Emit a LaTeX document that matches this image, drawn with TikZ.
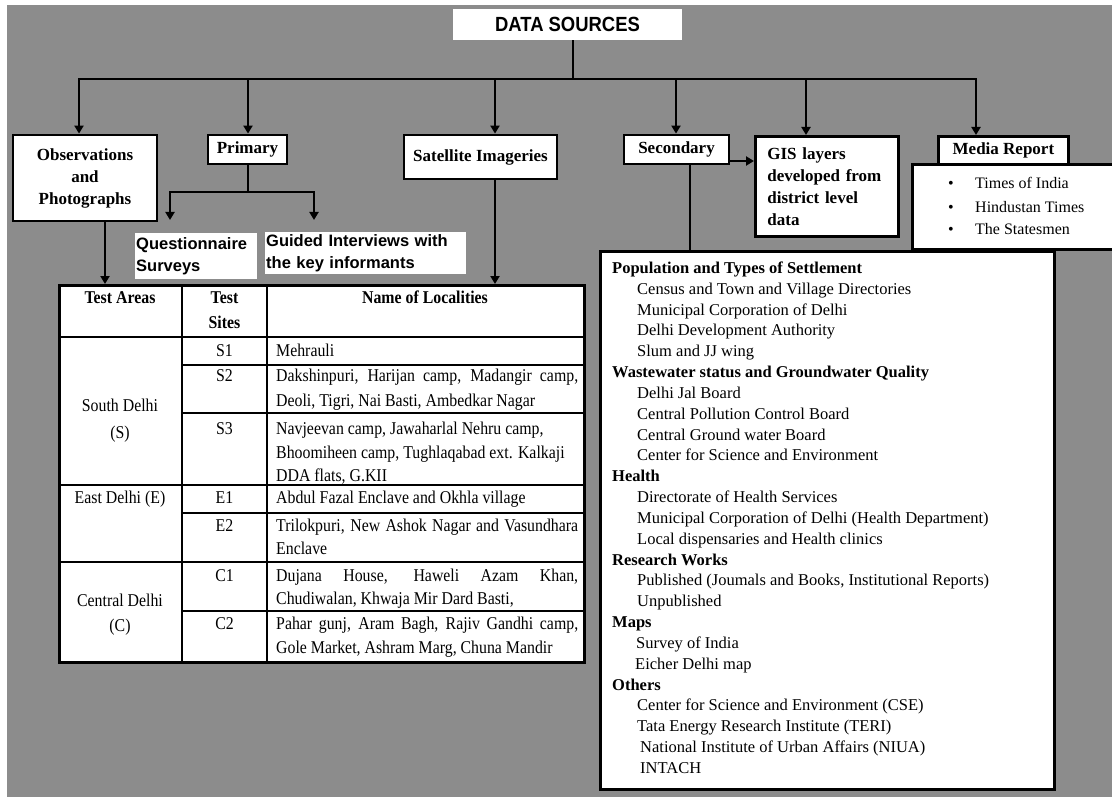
\documentclass[tikz,border=0pt]{standalone}
\usepackage{fontspec}
\setmainfont{Liberation Serif}
\newfontfamily\titlefont[FakeStretch=0.9]{Liberation Sans}
\newfontfamily\labelfont{Liberation Sans}
\newfontfamily\tablefont[FakeStretch=0.88]{Liberation Serif}
\usetikzlibrary{arrows.meta}
\definecolor{bggray}{RGB}{140,140,140}

\begin{document}
\begin{tikzpicture}[x=1pt,y=-1pt,
  box/.style={draw=black, line width=2.8pt, fill=white, inner sep=0pt},
  plain/.style={fill=white, inner sep=0pt},
  wire/.style={draw=black, line width=2.6pt},
  arr/.style={wire, -{Triangle[length=8pt,width=9pt]}},
  boxfont/.style={font=\fontsize{17}{22}\selectfont\bfseries},
  lblfont/.style={font=\labelfont\fontsize{16.5}{22}\selectfont\bfseries},
  tline/.style={draw=black, line width=2.6pt},
  tvline/.style={draw=black, line width=1.6pt},
  tcell/.style={font=\tablefont\fontsize{18}{24}\selectfont, inner sep=0pt, anchor=base},
  thead/.style={font=\tablefont\fontsize{18}{24}\selectfont\bfseries, inner sep=0pt, anchor=base},
  tloc/.style={font=\tablefont\fontsize{18}{24}\selectfont, inner sep=0pt, anchor=base west},
  srcline/.style={font=\fontsize{16.5}{20}\selectfont, inner sep=0pt, anchor=base west},
  listfont/.style={font=\fontsize{16}{20}\selectfont, inner sep=0pt, anchor=base west}
]
% canvas
\useasboundingbox (0,0) rectangle (1112,797);
\fill[white] (0,0) rectangle (1112,797);
\fill[bggray] (7,5) rectangle (1112,797);

% title
\node[plain, minimum width=229pt, minimum height=31pt,
      font=\titlefont\fontsize{20.5}{22}\selectfont\bfseries] (title) at (567.5,24.5) {DATA SOURCES};

% first level boxes
\node[box, boxfont, align=center, minimum width=144pt, minimum height=86pt] (obs) at (85,178)
  {Observations\\and\\Photographs};
\node[box, boxfont, minimum width=79pt, minimum height=29pt] (pri) at (247.5,149.5) {Primary};
\node[box, boxfont, minimum width=153pt, minimum height=44pt] (sat) at (480.5,157) {Satellite Imageries};
\node[box, boxfont, minimum width=105pt, minimum height=29pt] (sec) at (676.5,149.5) {Secondary};
\node[box, boxfont, align=left, text width=119pt, inner xsep=12pt, minimum width=143pt,
      minimum height=100pt, anchor=north west] (gis) at (754,135)
  {GIS layers\\developed from\\district level\\data};
\node[box, boxfont, minimum width=130pt, minimum height=28pt, anchor=north west] (med) at (937,135) {Media Report};

% newspaper list
\node[box, minimum width=205pt, minimum height=85pt, anchor=north west] (medlist) at (911,163) {};
\node[listfont] (b1) at (948,189) {\textbullet};
\node[listfont] (b2) at (948,212) {\textbullet};
\node[listfont] (b3) at (948,234) {\textbullet};
\node[listfont] (n1) at (975,189) {Times of India};
\node[listfont] (n2) at (975,212) {Hindustan Times};
\node[listfont] (n3) at (975,234) {The Statesmen};

% primary data labels
\node[plain, lblfont, align=left, text width=120pt, inner xsep=1pt, minimum width=122pt,
      minimum height=46pt, anchor=north west] (qs) at (135,233) {Questionnaire\\Surveys};
\node[plain, lblfont, align=left, text width=199pt, inner xsep=1pt, minimum width=201pt,
      minimum height=42pt, anchor=north west] (gi) at (265,232) {Guided Interviews with\\the key informants};

% connectors from the title
\coordinate (hub) at (573,79);
\coordinate (d1) at (79,79);
\coordinate (d2) at (248,79);
\coordinate (d3) at (495,79);
\coordinate (d4) at (676,79);
\coordinate (d5) at (806,79);
\coordinate (d6) at (976,79);
\draw[wire] (title.south -| hub) -- (hub);
\draw[arr] (hub) -| (d1 |- obs.north);
\draw[arr] (hub) -| (d6 |- med.north);
\draw[arr] (d2) -- (d2 |- pri.north);
\draw[arr] (d3) -- (d3 |- sat.north);
\draw[arr] (d4) -- (d4 |- sec.north);
\draw[arr] (d5) -- (d5 |- gis.north);

% primary split
\coordinate (psplit) at (248,192);
\coordinate (qtip) at (170,220);
\coordinate (gtip) at (314,220);
\draw[wire] (psplit |- pri.south) -- (psplit);
\draw[arr] (psplit) -| (qtip);
\draw[arr] (psplit) -| (gtip);

% secondary to GIS layers
\coordinate (sg) at (729,161);
\draw[arr] (sg) -- (sg -| gis.west);

% table of test areas
\node[box, minimum width=525pt, minimum height=377pt, anchor=north west] (tbl) at (58,284) {};
\coordinate (od) at (105,0);
\coordinate (sd) at (495,0);
\draw[arr] (od |- obs.south) -- (od |- tbl.north);
\draw[arr] (sd |- sat.south) -- (sd |- tbl.north);

\draw[tvline] (182,284) -- (182,661);
\draw[tvline] (267,284) -- (267,661);
\draw[tline] (58,337) -- (583,337);
\draw[tline] (58,485) -- (583,485);
\draw[tline] (58,562) -- (583,562);
\draw[tline] (182,365) -- (583,365);
\draw[tline] (182,413) -- (583,413);
\draw[tline] (182,513) -- (583,513);
\draw[tline] (182,611) -- (583,611);

% header row
\node[thead] (h1) at (120,303) {Test Areas};
\node[thead] (h2a) at (224.5,303) {Test};
\node[thead] (h2b) at (224.5,328) {Sites};
\node[thead] (h3) at (425,303) {Name of Localities};

% test areas
\node[tcell] (ta1) at (120,411) {South Delhi};
\node[tcell] (ta1b) at (120,438) {(S)};
\node[tcell] (ta2) at (120,503) {East Delhi (E)};
\node[tcell] (ta3) at (120,606) {Central Delhi};
\node[tcell] (ta3b) at (120,631) {(C)};

% test sites
\node[tcell] (s1) at (224.5,356) {S1};
\node[tcell] (s2) at (224.5,381) {S2};
\node[tcell] (s3) at (224.5,434) {S3};
\node[tcell] (e1) at (224.5,503) {E1};
\node[tcell] (e2) at (224.5,531) {E2};
\node[tcell] (c1) at (224.5,581) {C1};
\node[tcell] (c2) at (224.5,629) {C2};

% localities
\node[tloc] (l1) at (276,356) {Mehrauli};
\node[tloc] (l2a) at (276,381) {\makebox[302pt][s]{Dakshinpuri, Harijan camp, Madangir camp,}};
\node[tloc] (l2b) at (276,406) {Deoli, Tigri, Nai Basti, Ambedkar Nagar};
\node[tloc] (l3a) at (276,434) {Navjeevan camp, Jawaharlal Nehru camp,};
\node[tloc] (l3b) at (276,458) {Bhoomiheen camp, Tughlaqabad ext. Kalkaji};
\node[tloc] (l3c) at (276,481) {DDA flats, G.KII};
\node[tloc] (l4) at (276,503) {Abdul Fazal Enclave and Okhla village};
\node[tloc] (l5a) at (276,531) {\makebox[302pt][s]{Trilokpuri, New Ashok Nagar and Vasundhara}};
\node[tloc] (l5b) at (276,554) {Enclave};
\node[tloc] (l6a) at (276,581) {\makebox[302pt][s]{Dujana House, Haweli Azam Khan,}};
\node[tloc] (l6b) at (276,604) {Chudiwalan, Khwaja Mir Dard Basti,};
\node[tloc] (l7a) at (276,629) {\makebox[302pt][s]{Pahar gunj, Aram Bagh, Rajiv Gandhi camp,}};
\node[tloc] (l7b) at (276,653) {Gole Market, Ashram Marg, Chuna Mandir};

% secondary sources
\node[box, minimum width=454pt, minimum height=538pt, anchor=north west] (src) at (599,250) {};
\coordinate (sv) at (690,0);
\draw[wire] (sv |- sec.south) -- (sv |- src.north);

\foreach \txt/\ind [count=\i] in {
  {\textbf{Population and Types of Settlement}}/0,
  {Census and Town and Village Directories}/25,
  {Municipal Corporation of Delhi}/25,
  {Delhi Development Authority}/25,
  {Slum and JJ wing}/25,
  {\textbf{Wastewater status and Groundwater Quality}}/0,
  {Delhi Jal Board}/25,
  {Central Pollution Control Board}/25,
  {Central Ground water Board}/25,
  {Center for Science and Environment}/25,
  {\textbf{Health}}/0,
  {Directorate of Health Services}/25,
  {Municipal Corporation of Delhi (Health Department)}/25,
  {Local dispensaries and Health clinics}/25,
  {\textbf{Research Works}}/0,
  {Published (Joumals and Books, Institutional Reports)}/25,
  {Unpublished}/25,
  {\textbf{Maps}}/0,
  {Survey of India}/24,
  {Eicher Delhi map}/23,
  {\textbf{Others}}/0,
  {Center for Science and Environment (CSE)}/25,
  {Tata Energy Research Institute (TERI)}/25,
  {National Institute of Urban Affairs (NIUA)}/28,
  {INTACH}/28}
  \node[srcline] (src-\i) at ({612+\ind},{273.5+20.83*(\i-1)}) {\txt};
\end{tikzpicture}
\end{document}
